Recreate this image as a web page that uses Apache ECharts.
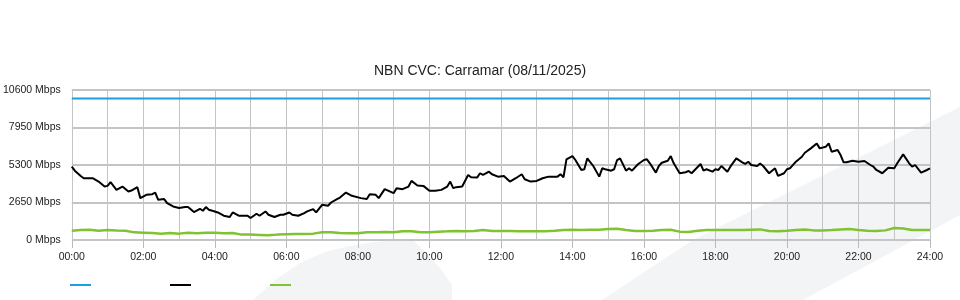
<!DOCTYPE html>
<html>
<head>
<meta charset="utf-8">
<script src="https://cdn.jsdelivr.net/npm/echarts@6/dist/echarts.min.js"></script>
<style>
html,body{margin:0;padding:0;background:#fff;}
#chart{width:960px;height:300px;}
</style>
</head>
<body>
<div id="chart"></div>
<script>
// ---- data (minutes of day, Mbps) ----
var titleText = 'NBN CVC: Carramar (08/11/2025)';
var yTicks = [0, 2650, 5300, 7950, 10600];
var xTickLabels = ['00:00','02:00','04:00','06:00','08:00','10:00','12:00','14:00','16:00','18:00','20:00','22:00','24:00'];

var capacityTimes = [0, 1440];
var capacityValues = [10000, 10000];

var downloadTimes = [
  0,5,15,20,30,35,45,55,60,65,75,85,95,100,110,115,125,135,140,145,
  155,160,170,180,190,195,205,215,220,225,230,240,245,255,265,270,280,290,295,300,
  310,315,325,330,340,350,355,365,370,380,390,395,405,410,420,430,435,445,450,460,
  470,485,495,500,510,515,525,540,545,555,565,570,580,590,600,610,620,630,635,640,
  645,655,665,670,680,685,690,700,705,715,725,735,745,755,760,770,780,790,800,805,
  815,820,825,830,840,845,855,860,865,875,885,890,895,905,910,915,920,930,935,940,
  950,960,965,970,980,985,990,1000,1005,1010,1020,1030,1035,1040,1055,1060,1065,1075,1080,1085,
  1090,1100,1105,1115,1125,1130,1135,1140,1150,1155,1160,1170,1180,1185,1195,1200,1205,1215,1225,1230,
  1240,1250,1255,1265,1270,1275,1285,1290,1295,1300,1310,1320,1330,1340,1345,1350,1360,1370,1380,1385,
  1395,1405,1410,1415,1425,1435,1440
];
var downloadValues = [
  5181,4900,4527,4365,4365,4365,4127,3775,3824,4084,3543,3775,3424,3494,3733,2960,3192,3240,3353,2840,
  2890,2608,2370,2257,2327,2327,1975,2207,2067,2327,2137,2018,1947,1715,1624,1947,1715,1715,1715,1553,
  1856,1715,2018,1786,1624,1786,1786,1947,1786,1715,1905,2018,2186,1947,2489,2418,2650,2890,3002,3353,
  3121,2960,2890,3240,3192,2960,3592,3311,3663,3592,3775,4176,3850,3824,3473,3473,3543,3775,4127,3663,
  3733,3775,4598,4436,4410,4717,4598,4830,4647,4478,4527,4127,4366,4647,4295,4127,4176,4366,4478,4478,
  4478,4647,4436,5701,5933,5652,4949,5000,5771,5230,4478,5067,5000,4900,5000,5652,5771,4900,5067,4900,
  5350,5652,5701,5420,4760,5230,5462,5603,5933,5420,4717,4787,4879,4717,5371,4900,5000,4830,4998,4949,
  5230,4830,5181,5771,5490,5371,5533,5300,5230,5400,5230,4717,5067,4527,4717,4998,5067,5533,5884,6165,
  6475,6826,6475,6587,6826,6236,6355,6004,5490,5490,5603,5533,5581,5300,5181,4949,4717,5111,5067,5420,
  6053,5420,5181,5300,4760,4949,5067
];

var uploadTimes = [
  0,15,30,45,60,75,90,105,120,135,150,165,180,195,210,225,240,255,270,285,
  300,315,330,345,360,375,390,405,420,435,450,465,480,495,510,525,540,555,570,585,
  600,615,630,645,660,675,690,705,720,735,750,765,780,795,810,825,840,855,870,885,
  900,915,930,945,960,975,990,1005,1020,1035,1050,1065,1080,1095,1110,1125,1140,1155,1170,1185,
  1200,1215,1230,1245,1260,1275,1290,1305,1320,1335,1350,1365,1380,1395,1410,1425,1440
];
var uploadValues = [
  660,710,730,650,710,680,660,540,520,500,450,500,450,520,485,520,520,485,500,380,
  380,360,330,380,415,430,430,450,540,540,500,485,470,540,540,570,540,612,612,540,
  540,590,612,640,612,640,710,640,640,640,612,612,612,612,660,710,730,710,730,730,
  770,800,710,640,640,660,700,730,590,570,660,700,700,700,700,700,730,750,640,612,
  660,710,750,680,680,710,750,780,710,660,640,680,850,820,710,700,710
];

function zip(t, v) { return t.map(function (x, i) { return [x, v[i]]; }); }

var chart = echarts.init(document.getElementById('chart'), null, {renderer: 'canvas'});
var FONT = '"Liberation Sans", Arial, sans-serif';
var legendBase = {
  top: 279, icon: 'rect', itemWidth: 21, itemHeight: 2,
  formatter: function () { return ''; }, selectedMode: false
};
chart.setOption({
  animation: false,
  backgroundColor: '#ffffff',
  textStyle: {fontFamily: FONT},
  title: {
    text: titleText, left: 'center', top: 59,
    textStyle: {fontSize: 14, fontWeight: 'normal', color: '#222', fontFamily: FONT}
  },
  graphic: [
    {type: 'polygon', z: -10, silent: true,
     shape: {points: [[602,300],[693,240],[960,107],[960,215],[803,300]]},
     style: {fill: '#f3f4f6'}},
    {type: 'polygon', z: -10, silent: true,
     shape: {points: [[253,300],[275,280],[300,263],[325,252],[350,246],[375,242],[395,240],[413,240],[440,268],[452,285],[452,300]]},
     style: {fill: '#f3f4f6'}}
  ],
  legend: [
    Object.assign({}, legendBase, {left: 65, data: ['Capacity']}),
    Object.assign({}, legendBase, {left: 165, data: ['Download']}),
    Object.assign({}, legendBase, {left: 265, data: ['Upload']})
  ],
  grid: {left: 70, right: 30, top: 90, bottom: 60, containLabel: false},
  xAxis: {
    type: 'value', min: 0, max: 1440, interval: 120,
    axisLine: {show: false},
    axisTick: {show: true, length: 8, lineStyle: {color: '#bbb'}},
    axisLabel: {
      margin: 12, fontSize: 10.5, color: '#222', fontFamily: FONT,
      formatter: function (v) { return xTickLabels[Math.round(v / 120)]; }
    },
    splitLine: {show: true, lineStyle: {color: '#c4c4c4', width: 1}},
    minorTick: {show: false, splitNumber: 2},
    minorSplitLine: {show: true, lineStyle: {color: '#c4c4c4', width: 1}}
  },
  yAxis: {
    type: 'value', min: yTicks[0], max: yTicks[yTicks.length - 1], interval: 2650,
    axisLine: {show: false},
    axisTick: {show: false},
    axisLabel: {
      margin: 11, fontSize: 10.5, color: '#222', fontFamily: FONT,
      formatter: function (v) { return v + ' Mbps'; }
    },
    splitLine: {show: true, lineStyle: {color: '#c4c4c4', width: 2}}
  },
  series: [
    {name: 'Capacity', type: 'line', data: zip(capacityTimes, capacityValues),
     showSymbol: false, color: '#1e9fdc', lineStyle: {width: 2, color: '#1e9fdc'}, z: 3},
    {name: 'Upload', type: 'line', data: zip(uploadTimes, uploadValues),
     showSymbol: false, color: '#80c232', lineStyle: {width: 2.5, color: '#80c232'}, z: 3},
    {name: 'Download', type: 'line', data: zip(downloadTimes, downloadValues),
     showSymbol: false, color: '#000000', lineStyle: {width: 2, color: '#000000'}, z: 4}
  ]
});
</script>
</body>
</html>
